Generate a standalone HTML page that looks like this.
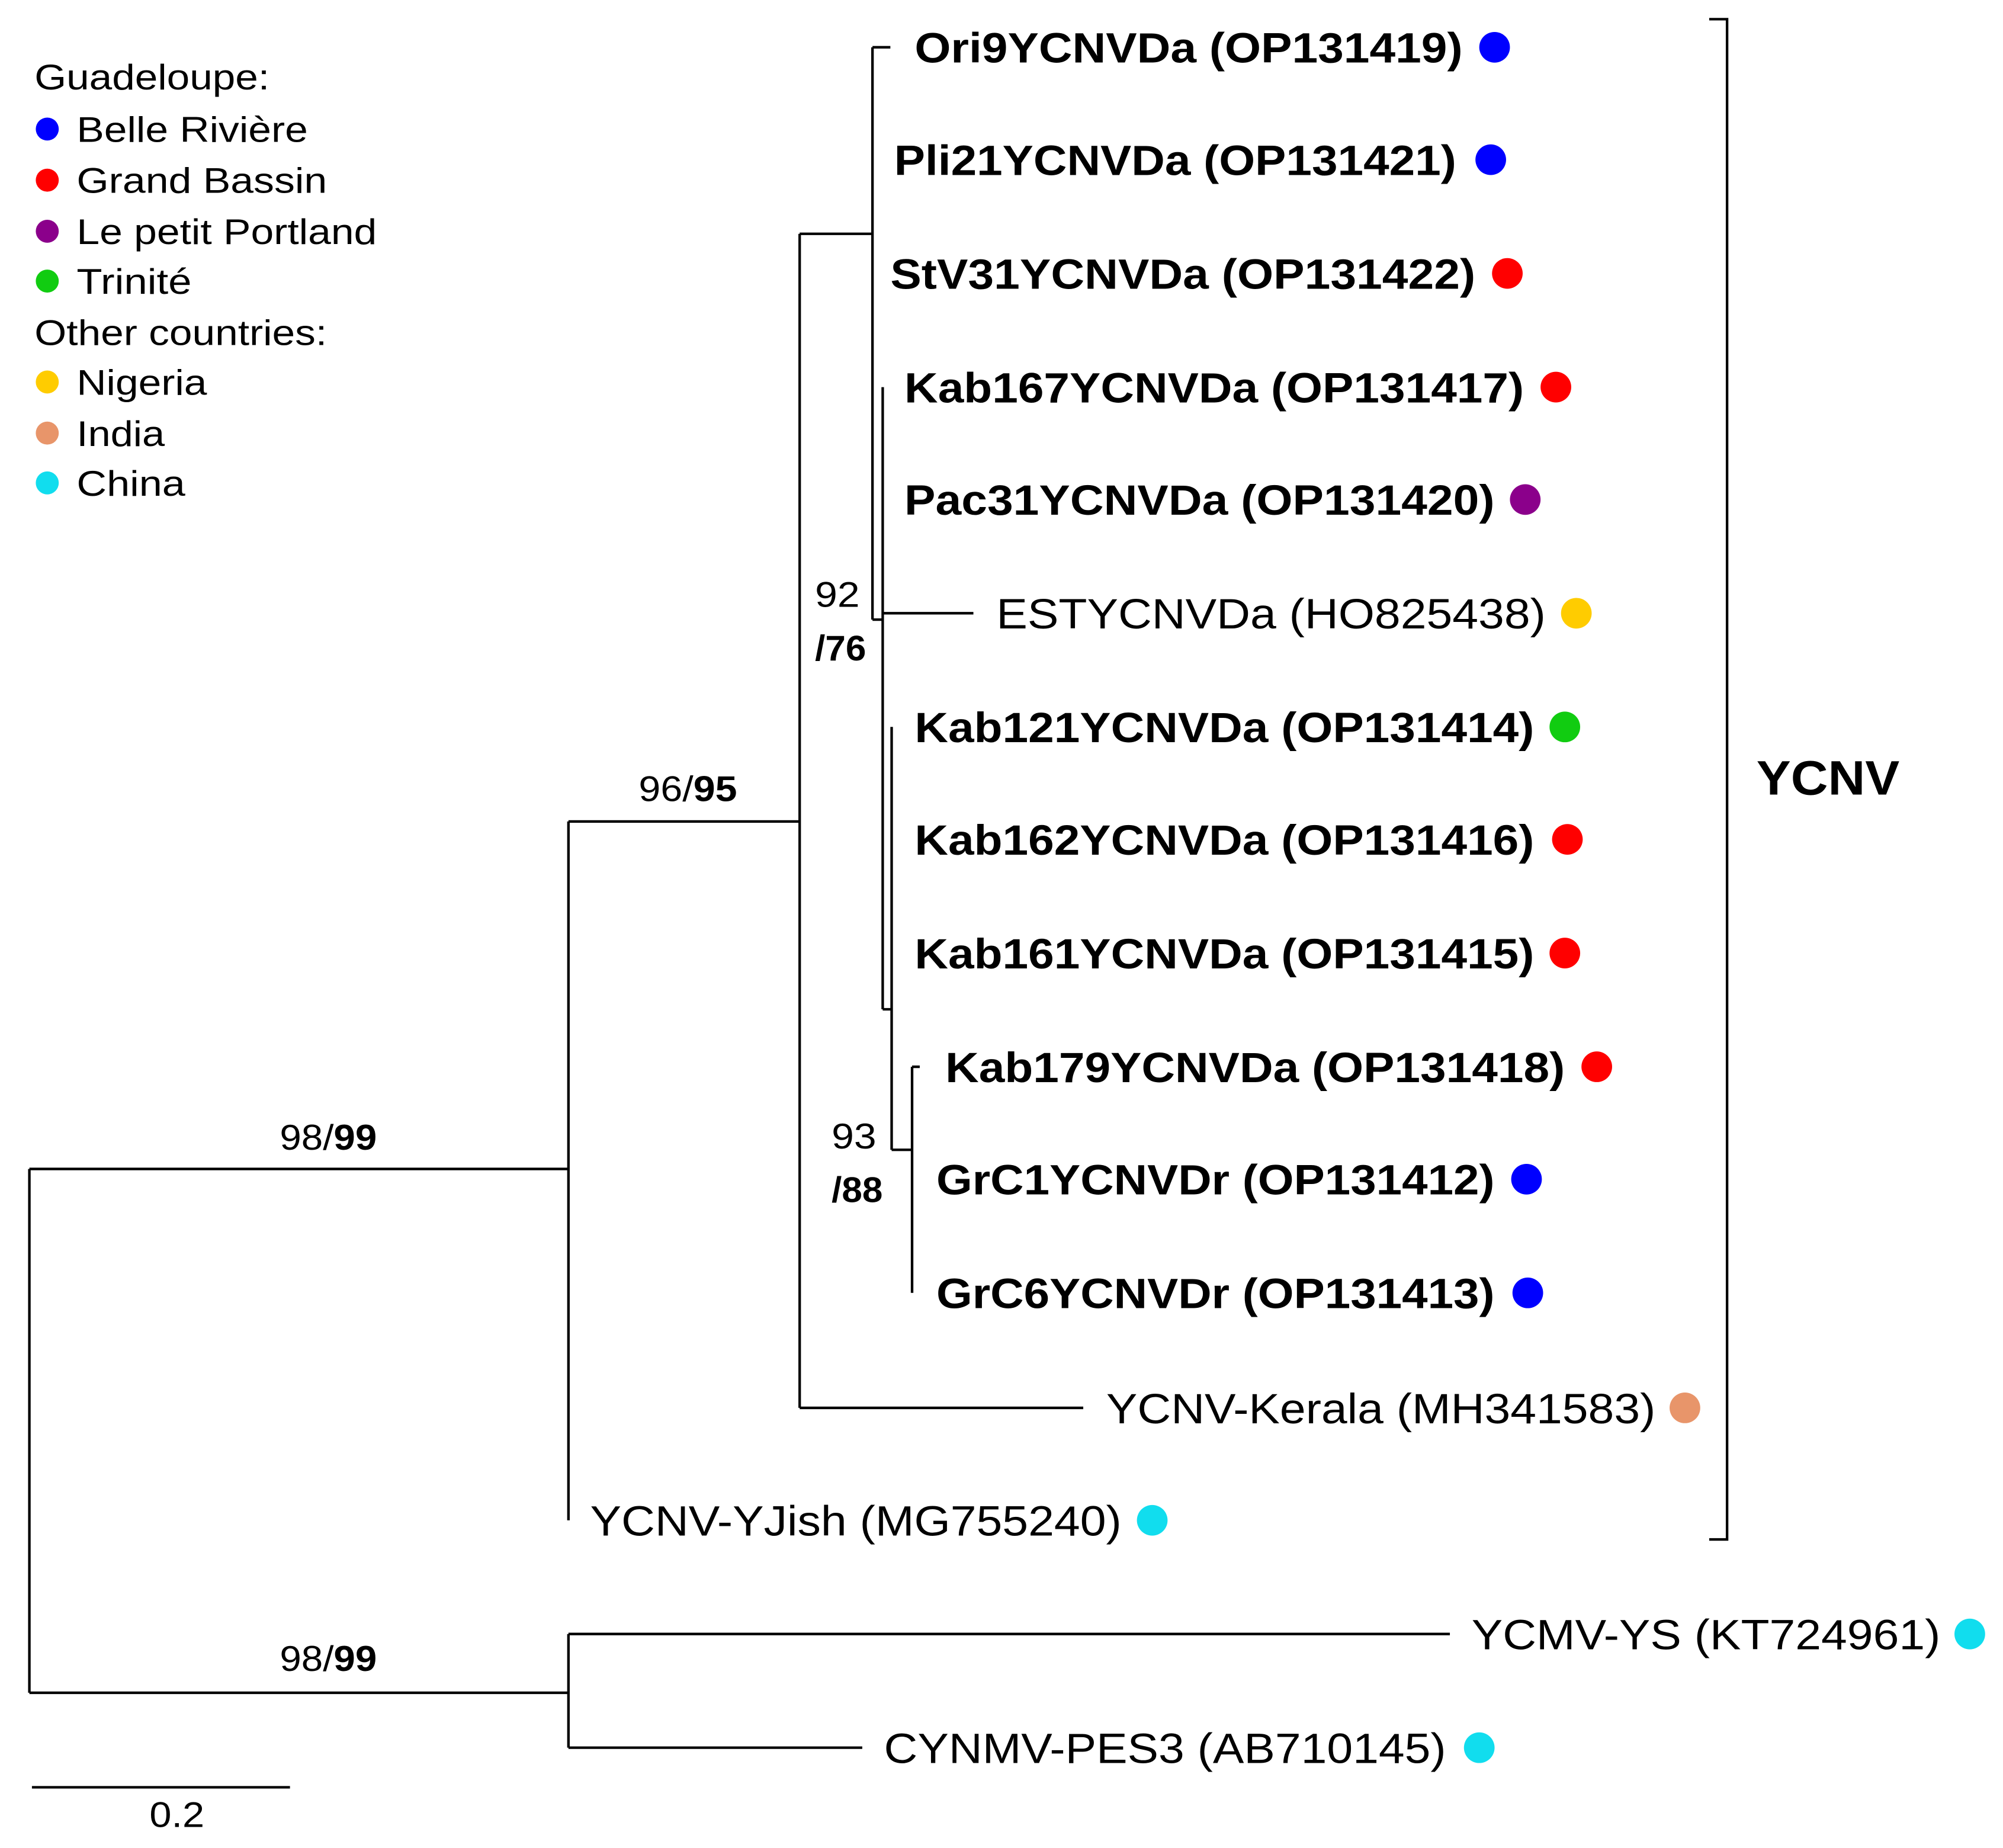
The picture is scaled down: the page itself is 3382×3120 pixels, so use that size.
<!DOCTYPE html>
<html><head><meta charset="utf-8"><style>html,body{margin:0;padding:0;background:#fff}svg{display:block}</style></head>
<body>
<svg width="3382" height="3120" viewBox="0 0 1568 1446.5" xmlns="http://www.w3.org/2000/svg" font-family="Liberation Sans, sans-serif">
<g stroke="#000" stroke-width="2" fill="none">
<path d="M23 915V1325M23 915H445M23 1325H445"/>
<path d="M445 643V1190M445 643H626M445 1279V1368M445 1279H1135M445 1368H675"/>
<path d="M626 183V1102M626 1102H848M626 183H683"/>
<path d="M683 37V485M683 37H697M683 485H691"/>
<path d="M691 303V790M691 480H762M691 790H698"/>
<path d="M698 569V900M698 900H714"/>
<path d="M714 835V1012M714 835H720"/>
<path d="M25 1399H227"/>
<path d="M1338 15H1352V1205H1338"/>
</g>
<g font-size="28" fill="#000">
<text x="27" y="70" textLength="184" lengthAdjust="spacingAndGlyphs">Guadeloupe:</text>
<text x="60" y="111" textLength="181" lengthAdjust="spacingAndGlyphs">Belle Rivière</text>
<text x="60" y="151" textLength="196" lengthAdjust="spacingAndGlyphs">Grand Bassin</text>
<text x="60" y="191" textLength="235" lengthAdjust="spacingAndGlyphs">Le petit Portland</text>
<text x="60" y="230" textLength="90" lengthAdjust="spacingAndGlyphs">Trinité</text>
<text x="27" y="270" textLength="229" lengthAdjust="spacingAndGlyphs">Other countries:</text>
<text x="60" y="309" textLength="102" lengthAdjust="spacingAndGlyphs">Nigeria</text>
<text x="60" y="349" textLength="69" lengthAdjust="spacingAndGlyphs">India</text>
<text x="60" y="388" textLength="85" lengthAdjust="spacingAndGlyphs">China</text>
<text x="500" y="627" textLength="77" lengthAdjust="spacingAndGlyphs">96/<tspan font-weight="bold">95</tspan></text>
<text x="219" y="900" textLength="76" lengthAdjust="spacingAndGlyphs">98/<tspan font-weight="bold">99</tspan></text>
<text x="219" y="1308" textLength="76" lengthAdjust="spacingAndGlyphs">98/<tspan font-weight="bold">99</tspan></text>
<text x="638" y="475" textLength="35" lengthAdjust="spacingAndGlyphs">92</text>
<text x="638" y="517" textLength="40" lengthAdjust="spacingAndGlyphs" font-weight="bold">/76</text>
<text x="651" y="899" textLength="35" lengthAdjust="spacingAndGlyphs">93</text>
<text x="651" y="941" textLength="40" lengthAdjust="spacingAndGlyphs" font-weight="bold">/88</text>
<text x="117" y="1430" textLength="43" lengthAdjust="spacingAndGlyphs">0.2</text>
</g>
<g font-size="33" fill="#000">
<g font-weight="bold">
<text x="716" y="49" textLength="429" lengthAdjust="spacingAndGlyphs">Ori9YCNVDa (OP131419)</text>
<text x="700" y="137" textLength="440" lengthAdjust="spacingAndGlyphs">Pli21YCNVDa (OP131421)</text>
<text x="697" y="226" textLength="458" lengthAdjust="spacingAndGlyphs">StV31YCNVDa (OP131422)</text>
<text x="708" y="315" textLength="485" lengthAdjust="spacingAndGlyphs">Kab167YCNVDa (OP131417)</text>
<text x="708" y="403" textLength="462" lengthAdjust="spacingAndGlyphs">Pac31YCNVDa (OP131420)</text>
<text x="716" y="581" textLength="485" lengthAdjust="spacingAndGlyphs">Kab121YCNVDa (OP131414)</text>
<text x="716" y="669" textLength="485" lengthAdjust="spacingAndGlyphs">Kab162YCNVDa (OP131416)</text>
<text x="716" y="758" textLength="485" lengthAdjust="spacingAndGlyphs">Kab161YCNVDa (OP131415)</text>
<text x="740" y="847" textLength="485" lengthAdjust="spacingAndGlyphs">Kab179YCNVDa (OP131418)</text>
<text x="733" y="935" textLength="437" lengthAdjust="spacingAndGlyphs">GrC1YCNVDr (OP131412)</text>
<text x="733" y="1024" textLength="437" lengthAdjust="spacingAndGlyphs">GrC6YCNVDr (OP131413)</text>
<text x="1375" y="622" font-size="38" textLength="112" lengthAdjust="spacingAndGlyphs">YCNV</text>
</g>
<text x="780" y="492" textLength="430" lengthAdjust="spacingAndGlyphs">ESTYCNVDa (HO825438)</text>
<text x="866" y="1114" textLength="430" lengthAdjust="spacingAndGlyphs">YCNV-Kerala (MH341583)</text>
<text x="462" y="1202" textLength="416" lengthAdjust="spacingAndGlyphs">YCNV-YJish (MG755240)</text>
<text x="1152" y="1291" textLength="367" lengthAdjust="spacingAndGlyphs">YCMV-YS (KT724961)</text>
<text x="692" y="1380" textLength="440" lengthAdjust="spacingAndGlyphs">CYNMV-PES3 (AB710145)</text>
</g>
<g>
<circle cx="37" cy="101" r="9" fill="#0000ff"/>
<circle cx="37" cy="141" r="9" fill="#ff0000"/>
<circle cx="37" cy="181" r="9" fill="#8b008b"/>
<circle cx="37" cy="220" r="9" fill="#11cc11"/>
<circle cx="37" cy="299" r="9" fill="#ffcc00"/>
<circle cx="37" cy="339" r="9" fill="#e8956a"/>
<circle cx="37" cy="378" r="9" fill="#11ddee"/>
<circle cx="1170" cy="37" r="12" fill="#0000ff"/>
<circle cx="1167" cy="125" r="12" fill="#0000ff"/>
<circle cx="1180" cy="214" r="12" fill="#ff0000"/>
<circle cx="1218" cy="303" r="12" fill="#ff0000"/>
<circle cx="1194" cy="391" r="12" fill="#8b008b"/>
<circle cx="1234" cy="480" r="12" fill="#ffcc00"/>
<circle cx="1225" cy="569" r="12" fill="#11cc11"/>
<circle cx="1227" cy="657" r="12" fill="#ff0000"/>
<circle cx="1225" cy="746" r="12" fill="#ff0000"/>
<circle cx="1250" cy="835" r="12" fill="#ff0000"/>
<circle cx="1195" cy="923" r="12" fill="#0000ff"/>
<circle cx="1196" cy="1012" r="12" fill="#0000ff"/>
<circle cx="1319" cy="1102" r="12" fill="#e8956a"/>
<circle cx="902" cy="1190" r="12" fill="#11ddee"/>
<circle cx="1542" cy="1279" r="12" fill="#11ddee"/>
<circle cx="1158" cy="1368" r="12" fill="#11ddee"/>
</g>
</svg>
</body></html>
